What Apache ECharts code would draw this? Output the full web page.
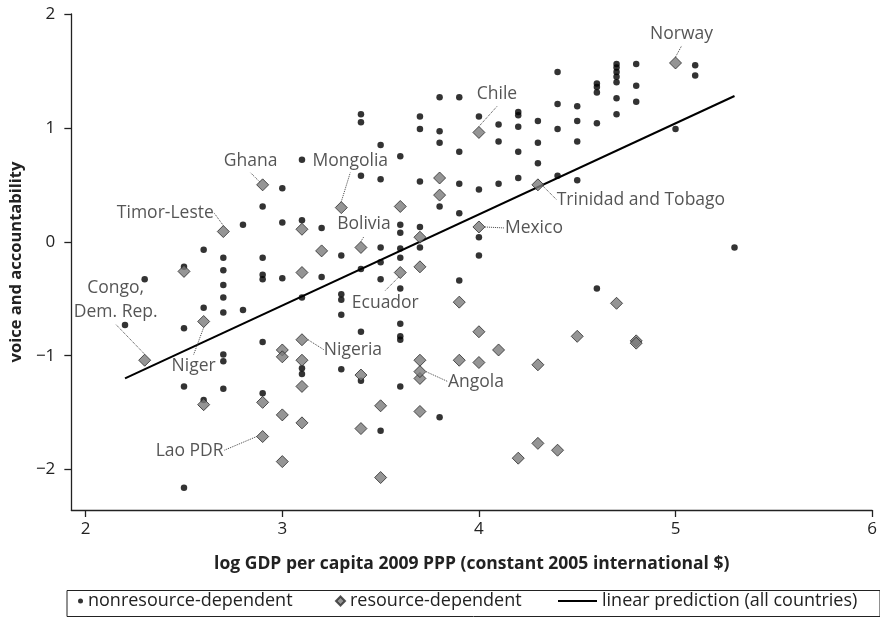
<!DOCTYPE html>
<html>
<head>
<meta charset="utf-8">
<script src="https://cdn.jsdelivr.net/npm/echarts@6/dist/echarts.min.js"></script>
<style>
  html, body { margin: 0; padding: 0; background: #fff; }
  #chart { width: 880px; height: 626px; }
</style>
</head>
<body>
<div id="chart"></div>
<script>
// 非资源依赖国家 (dots)
const nonresourcePoints = [
  [2.2, -0.73], [2.3, -0.33],
  [2.5, -0.22], [2.5, -0.76], [2.5, -1.27], [2.5, -2.16],
  [2.6, -0.07], [2.6, -0.58], [2.6, -1.39],
  [2.7, -0.14], [2.7, -0.25], [2.7, -0.38], [2.7, -0.49], [2.7, -0.62], [2.7, -0.99], [2.7, -1.05], [2.7, -1.29],
  [2.8, 0.15], [2.8, -0.60],
  [2.9, 0.31], [2.9, -0.14], [2.9, -0.29], [2.9, -0.33], [2.9, -0.88], [2.9, -1.33],
  [3.0, 0.47], [3.0, 0.17], [3.0, -0.32],
  [3.1, 0.72], [3.1, 0.19], [3.1, -0.49], [3.1, -1.11], [3.1, -1.16],
  [3.2, 0.12], [3.2, -0.31],
  [3.3, -0.12], [3.3, -0.46], [3.3, -0.51], [3.3, -0.64], [3.3, -1.12],
  [3.4, 1.12], [3.4, 1.05], [3.4, 0.58], [3.4, -0.24], [3.4, -0.79], [3.4, -1.22],
  [3.5, 0.85], [3.5, 0.55], [3.5, -0.05], [3.5, -0.18], [3.5, -0.33], [3.5, -1.66],
  [3.6, 0.75], [3.6, 0.15], [3.6, 0.08], [3.6, -0.06], [3.6, -0.14], [3.6, -0.41], [3.6, -0.72], [3.6, -0.83], [3.6, -0.86], [3.6, -1.27],
  [3.7, 1.10], [3.7, 0.99], [3.7, 0.53], [3.7, 0.13], [3.7, -0.05],
  [3.8, 1.27], [3.8, 0.97], [3.8, 0.87], [3.8, 0.31], [3.8, -1.54],
  [3.9, 1.27], [3.9, 0.79], [3.9, 0.51], [3.9, 0.25], [3.9, -0.34],
  [4.0, 1.10], [4.0, 0.46], [4.0, 0.04], [4.0, -0.12],
  [4.1, 1.03], [4.1, 0.88], [4.1, 0.51],
  [4.2, 1.14], [4.2, 1.11], [4.2, 1.01], [4.2, 0.79], [4.2, 0.56],
  [4.3, 1.06], [4.3, 0.87], [4.3, 0.69],
  [4.4, 1.49], [4.4, 1.21], [4.4, 0.99], [4.4, 0.58],
  [4.5, 1.19], [4.5, 1.06], [4.5, 0.88], [4.5, 0.54],
  [4.6, 1.39], [4.6, 1.36], [4.6, 1.31], [4.6, 1.04], [4.6, -0.41],
  [4.7, 1.56], [4.7, 1.53], [4.7, 1.49], [4.7, 1.45], [4.7, 1.40], [4.7, 1.26], [4.7, 1.12],
  [4.8, 1.56], [4.8, 1.37], [4.8, 1.23],
  [5.0, 0.99], [5.1, 1.55], [5.1, 1.46], [5.3, -0.05]
];

// 资源依赖国家 (diamonds, 无标注)
const resourcePoints = [
  [2.5, -0.26], [2.6, -1.43], [2.9, -1.41],
  [3.0, -0.95], [3.0, -1.01], [3.0, -1.52], [3.0, -1.93],
  [3.1, 0.11], [3.1, -0.27], [3.1, -1.04], [3.1, -1.27], [3.1, -1.59],
  [3.2, -0.08], [3.4, -1.17], [3.4, -1.64], [3.5, -1.44], [3.5, -2.07],
  [3.6, 0.31], [3.7, 0.04], [3.7, -0.22], [3.7, -1.04], [3.7, -1.20], [3.7, -1.49],
  [3.8, 0.56], [3.8, 0.41], [3.9, -0.53], [3.9, -1.04],
  [4.0, -0.79], [4.0, -1.06], [4.1, -0.95], [4.2, -1.90],
  [4.3, -1.08], [4.3, -1.77], [4.4, -1.83], [4.5, -0.83],
  [4.7, -0.54], [4.8, -0.87], [4.8, -0.89]
];

// 标注国家
const labeledNames = ['Norway', 'Chile', 'Ghana', 'Mongolia', 'Timor-Leste', 'Bolivia',
  'Trinidad and Tobago', 'Mexico', 'Ecuador', 'Congo,\nDem. Rep.', 'Niger', 'Nigeria', 'Angola', 'Lao PDR'];
const labeledPoints = [
  [5.0, 1.57], [4.0, 0.96], [2.9, 0.50], [3.3, 0.30], [2.7, 0.09], [3.4, -0.05],
  [4.3, 0.50], [4.0, 0.13], [3.6, -0.27], [2.3, -1.04], [2.6, -0.70], [3.1, -0.86], [3.7, -1.14], [2.9, -1.71]
];

// 线性预测
const fitLine = [[2.2, -1.2], [5.3, 1.28]];

const xTicks = [2, 3, 4, 5, 6];
const yTicks = [-2, -1, 0, 1, 2];

// label offsets (px) relative to the point
const labelOffsets = [
  [6, -29], [18, -38], [-12, -24], [9, -47], [-58, -19], [3, -23],
  [103, 15], [55, 1], [-15, 30], [-29, -60], [-10, 45], [51, 10], [56, 10], [-73, 14]
];

const FONT = 'Open Sans';
const TEXT = '#222';
const minus = v => (v < 0 ? '\u2212' + Math.abs(v) : String(v));

const myEcharts = echarts.init(document.getElementById('chart'));

const diamondStyle = { color: '#7b7b7b', borderColor: '#2a2a2a', borderWidth: 1 };
const legendText = { fontSize: 18, color: TEXT, fontFamily: FONT };

const option = {
  backgroundColor: '#fff',
  animation: false,
  textStyle: { fontFamily: FONT },
  grid: { left: 70, right: 7.3, top: 14, bottom: 116 },
  xAxis: {
    type: 'value',
    min: 1.927,
    max: 6,
    name: 'log GDP per capita 2009 PPP (constant 2005 international $)',
    nameLocation: 'middle',
    nameGap: 45,
    nameTextStyle: { fontFamily: FONT, fontWeight: 'bold', fontSize: 17.5, color: TEXT },
    axisLine: { onZero: false, lineStyle: { color: TEXT, width: 1.3 } },
    axisTick: { show: true, length: 7, customValues: xTicks, lineStyle: { color: TEXT, width: 1.3 } },
    axisLabel: { customValues: xTicks, fontSize: 17, color: TEXT, margin: 11, fontFamily: FONT },
    splitLine: { show: false }
  },
  yAxis: {
    type: 'value',
    min: -2.355,
    max: 2,
    name: 'voice and accountability',
    nameLocation: 'middle',
    nameGap: 44,
    nameTextStyle: { fontFamily: FONT, fontWeight: 'bold', fontSize: 16.5, color: TEXT },
    axisLine: { onZero: false, lineStyle: { color: TEXT, width: 1.3 } },
    axisTick: { show: true, length: 7, customValues: yTicks, lineStyle: { color: TEXT, width: 1.3 } },
    axisLabel: { customValues: yTicks, fontSize: 17, color: TEXT, margin: 16, fontFamily: FONT, formatter: minus },
    splitLine: { show: false }
  },
  legend: [
    {
      data: [{ name: 'nonresource-dependent', icon: 'circle' }],
      left: 78, top: 592, padding: 0,
      itemWidth: 5, itemHeight: 5, selectedMode: false,
      textStyle: legendText
    },
    {
      data: [{ name: 'resource-dependent', icon: 'diamond' }],
      left: 335, top: 592, padding: 0,
      itemWidth: 9, itemHeight: 9, selectedMode: false,
      textStyle: legendText
    },
    {
      data: [{ name: 'linear prediction (all countries)', icon: 'rect' }],
      left: 558, top: 592, padding: 0,
      itemWidth: 39, itemHeight: 2, selectedMode: false,
      textStyle: legendText
    }
  ],
  graphic: [
    {
      type: 'rect',
      left: 64.5, top: 588,
      shape: { width: 813, height: 26 },
      style: { fill: 'none', stroke: TEXT, lineWidth: 1 },
      silent: true
    }
  ],
  series: [
    {
      name: 'linear prediction (all countries)',
      type: 'line',
      data: fitLine,
      symbol: 'none',
      z: 2,
      lineStyle: { color: '#000', width: 2 },
      itemStyle: { color: '#000' }
    },
    {
      name: 'nonresource-dependent',
      type: 'scatter',
      data: nonresourcePoints,
      symbol: 'circle',
      symbolSize: 6.5,
      z: 3,
      itemStyle: { color: '#000' }
    },
    {
      name: 'resource-dependent',
      type: 'scatter',
      data: resourcePoints,
      symbol: 'diamond',
      symbolSize: 12,
      z: 4,
      itemStyle: diamondStyle
    },
    {
      name: 'resource-dependent',
      type: 'scatter',
      data: labeledPoints,
      symbol: 'diamond',
      symbolSize: 12,
      z: 5,
      itemStyle: diamondStyle,
      label: {
        show: true,
        position: 'inside',
        formatter: p => labeledNames[p.dataIndex],
        fontFamily: FONT,
        fontSize: 17.5,
        lineHeight: 24,
        color: '#2a2a2a',
        align: 'center'
      },
      labelLine: {
        show: true,
        lineStyle: { color: '#444', width: 1, type: 'dotted' }
      },
      labelLayout: params => {
        const o = labelOffsets[params.dataIndex]
        return { dx: o[0], dy: o[1], hideOverlap: false }
      }
    }
  ]
};

option && myEcharts.setOption(option);
</script>
</body>
</html>
